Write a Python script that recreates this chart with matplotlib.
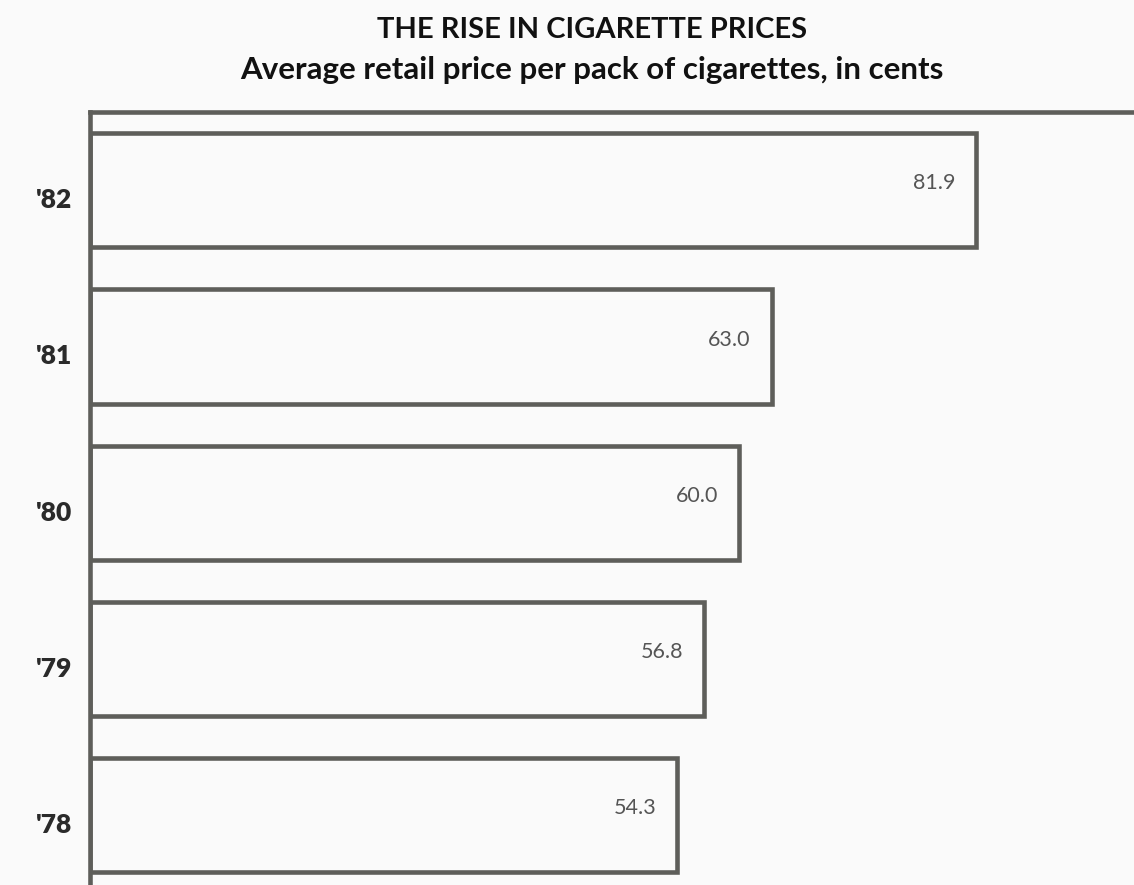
import matplotlib
matplotlib.use("Agg")
import matplotlib.pyplot as plt

years = ["'82", "'81", "'80", "'79", "'78"]
prices = [81.9, 63.0, 60.0, 56.8, 54.3]

title = "THE RISE IN CIGARETTE PRICES"
subtitle = "Average retail price per pack of cigarettes, in cents"

bg = '#fafafa'
edge = '#5e5e5a'
fam = ['Lato', 'DejaVu Sans']

fig = plt.figure(figsize=(11.34, 8.85), dpi=100, facecolor=bg)
ax = fig.add_axes([90 / 1134, 0, 1 - 90 / 1134, 1 - 112 / 885])
ax.set_facecolor(bg)

pos = list(range(len(years)))
ax.barh(pos, prices, height=0.73, color=bg, edgecolor=edge, linewidth=3.3)

ax.set_xlim(0, 96.5)
ax.set_ylim(4.445, -0.5)

for s in ['right', 'bottom']:
    ax.spines[s].set_visible(False)
for s in ['left', 'top']:
    ax.spines[s].set_color(edge)
    ax.spines[s].set_linewidth(3.3)
ax.set_xticks([])
ax.set_yticks([])

for i, (y, v) in enumerate(zip(years, prices)):
    ax.annotate(f"{v:.1f}", xy=(v, i), xytext=(-15, 5), textcoords='offset points',
                ha='right', va='center', fontsize=15.5, color='#555555', family=fam)
    ax.annotate(y, xy=(0, i), xycoords=('axes fraction', 'data'), xytext=(-13, -7),
                textcoords='offset points', ha='right', va='center',
                fontsize=19, fontweight='heavy', color='#2a2a2a', family=fam)

fig.text(0.522, 0.966, title, ha='center', va='center', fontsize=21,
         fontweight='bold', color='#111111', family=fam)
fig.text(0.522, 0.921, subtitle, ha='center', va='center', fontsize=22.5,
         fontweight='bold', color='#111111', family=fam)

fig.savefig('out.png', dpi=100, facecolor=bg)
